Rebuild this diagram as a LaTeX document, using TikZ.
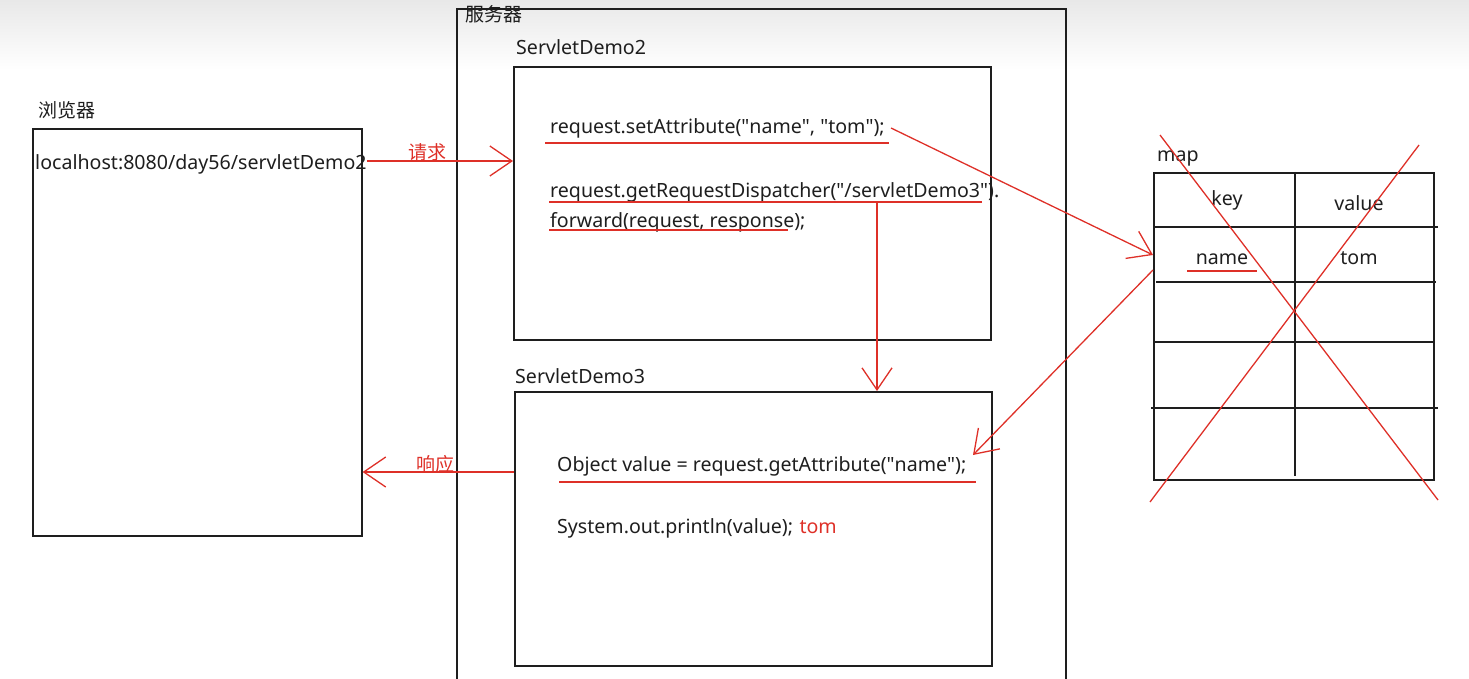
\documentclass[tikz,border=0pt]{standalone}
\usepackage{fontspec}
\setmainfont{Noto Sans}
\newfontfamily\cjk{Noto Sans CJK SC}
\usepackage{xcolor}
\usetikzlibrary{arrows.meta}

\definecolor{pen}{RGB}{222,48,40}
\definecolor{ink}{RGB}{30,30,30}
\newcommand{\dq}{\textquotedbl{}}

\tikzset{
  box/.style={draw=ink, line width=1.6pt, inner sep=0pt},
  txt/.style={anchor=base west, inner sep=0pt, text=ink, font=\fontsize{19.6}{23}\selectfont},
  zh/.style={anchor=west, inner sep=0pt, text=ink, font=\cjk\fontsize{19}{23}\selectfont},
  note/.style={inner sep=0pt, text=pen, font=\cjk\fontsize{19}{23}\selectfont},
  underl/.style={draw=pen, line width=1.3pt},
  flow/.style={draw=pen, line width=1.3pt, -{Straight Barb[length=22pt,width=30pt,line width=1.3pt]}},
}

\begin{document}
\begin{tikzpicture}[x=1pt,y=-1pt]
\useasboundingbox (0,0) rectangle (1469,679);
\shade[top color=black!9, bottom color=white] (0,0) rectangle (1469,70);

% browser
\node[zh] (browser-lbl) at (38,110) {浏览器};
\node[box, minimum width=329pt, minimum height=407pt, anchor=north west] (browser) at (32,128) {};
\node[txt] (url) at (35,170) {localhost:8080/day56/servletDemo2};

% server
\draw[box] (457,679) |- (1066,9) -- (1066,679);
\node[zh] (server-lbl) at (465,14) {服务器};

% ServletDemo2
\node[txt] (sd2-lbl) at (516,55) {ServletDemo2};
\node[box, minimum width=477pt, minimum height=273pt, anchor=north west] (sd2) at (513,66) {};
\node[txt] (set) at (550,134) {request.setAttribute(\dq name\dq, \dq tom\dq);};
\node[txt] (disp) at (550,197) {request.getRequestDispatcher(\dq/servletDemo3\dq).};
\node[txt] (fwd) at (550,227) {forward(request, response);};
\draw[underl] (545,143) -- (889,143);
\draw[underl] (549,202) -- (982,202);
\draw[underl] (549,230) -- (788,230);

% ServletDemo3
\node[txt] (sd3-lbl) at (515,383) {ServletDemo3};
\node[box, minimum width=477pt, minimum height=274pt, anchor=north west] (sd3) at (514,391) {};
\node[txt] (get) at (557,471) {Object value = request.getAttribute(\dq name\dq);};
\node[txt] (print) at (557,533) {System.out.println(value);};
\node[txt, text=pen] (out) at ([xshift=6pt]print.base east) {tom};
\draw[underl] (559,482) -- (976,482);

% map
\node[txt] (map-lbl) at (1157,162) {map};
\node[box, minimum width=280pt, minimum height=307pt, anchor=north west] (map) at (1153,172) {};
\draw[box] (1295,172) -- (1295,476);
\draw[box] (1153,227) -- (1438,227);
\draw[box] (1156,282) -- (1436,282);
\draw[box] (1155,342) -- (1435,342);
\draw[box] (1151,408) -- (1438,408);
\node[txt, anchor=base] (key) at (1227,205) {key};
\node[txt, anchor=base] (val) at (1359,211) {value};
\node[txt, anchor=base] (name) at (1222,264) {name};
\node[txt, anchor=base] (tom) at (1359,264) {tom};
\draw[underl] (1187,271) -- (1257,271);
\draw[underl] (1160,135) -- (1438,500);
\draw[underl] (1419,145) -- (1150,502);

% arrows
\node[note, anchor=base] (req-lbl) at (427,160) {请求};
\node[note, anchor=base] (resp-lbl) at (435,471) {响应};
\coordinate (resp) at (0,472);
\coordinate (fwd-start) at (877,202);
\coordinate (set-end) at (891,128);
\coordinate (name-in) at (1153,255);
\coordinate (name-out) at (1153,270);
\coordinate (get-end) at (973,455);
\draw[flow] (url.east |- 0,161) -- (sd2.west |- 0,161);
\draw[flow] (fwd-start) -- (fwd-start |- sd3.north);
\draw[flow] (sd3.west |- resp) -- (browser.east |- resp);
\draw[flow] (set-end) -- (name-in);
\draw[flow] (name-out) -- (get-end);
\end{tikzpicture}
\end{document}
